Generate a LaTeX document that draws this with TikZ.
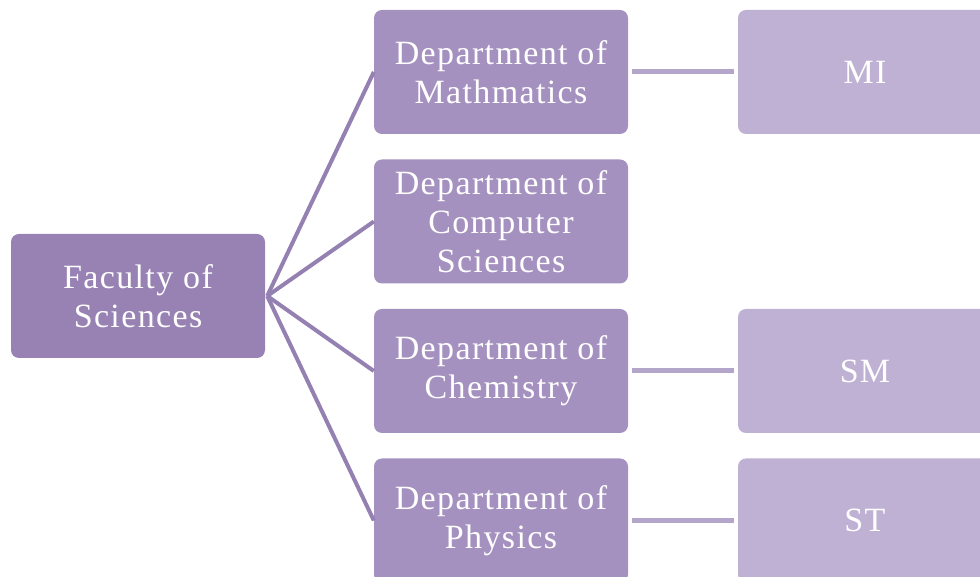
\documentclass[tikz,border=0pt]{standalone}
\usepackage{fontspec}
\setmainfont{Liberation Serif}[LetterSpace=4]
\definecolor{rootc}{HTML}{9882B4}
\definecolor{deptc}{HTML}{A591C0}
\definecolor{leafc}{HTML}{BFB1D3}
\definecolor{fanc}{HTML}{9580B2}
\definecolor{hlinec}{HTML}{B4A6CA}
\begin{document}
\begin{tikzpicture}[x=1pt,y=1pt,
  boxbase/.style={rectangle, rounded corners=8pt, minimum width=254pt, minimum height=124pt,
    text=white, align=center, inner sep=0pt,
    font=\fontsize{34}{39}\selectfont},
  rootbox/.style={boxbase, fill=rootc},
  deptbox/.style={boxbase, fill=deptc},
  leafbox/.style={boxbase, fill=leafc},
  fanline/.style={draw=fanc, line width=4pt},
  hline/.style={draw=hlinec, line width=5pt}]
\useasboundingbox (0,0) rectangle (980,577);
\clip (0,0) rectangle (980,577);
\node[rootbox] (root) at (138,281) {Faculty of\\Sciences};
\node[deptbox] (math) at (501,505) {Department of\\Mathmatics};
\node[deptbox] (cs) at (501,355.5) {Department of\\Computer\\Sciences};
\node[deptbox] (chem) at (501,206) {Department of\\Chemistry};
\node[deptbox] (phys) at (501,56.5) {Department of\\Physics};
\node[leafbox] (mi) at (865,505) {MI};
\node[leafbox] (sm) at (865,206) {SM};
\node[leafbox] (st) at (865,56.5) {ST};
\coordinate (fan) at ([xshift=2pt]root.east);
\foreach \d in {math,cs,chem,phys}{
  \draw[fanline] (fan) -- (\d.west);
}
\draw[hline] ([xshift=4pt]math.east) -- ([xshift=-4pt]mi.west);
\draw[hline] ([xshift=4pt]chem.east) -- ([xshift=-4pt]sm.west);
\draw[hline] ([xshift=4pt]phys.east) -- ([xshift=-4pt]st.west);
\end{tikzpicture}
\end{document}
